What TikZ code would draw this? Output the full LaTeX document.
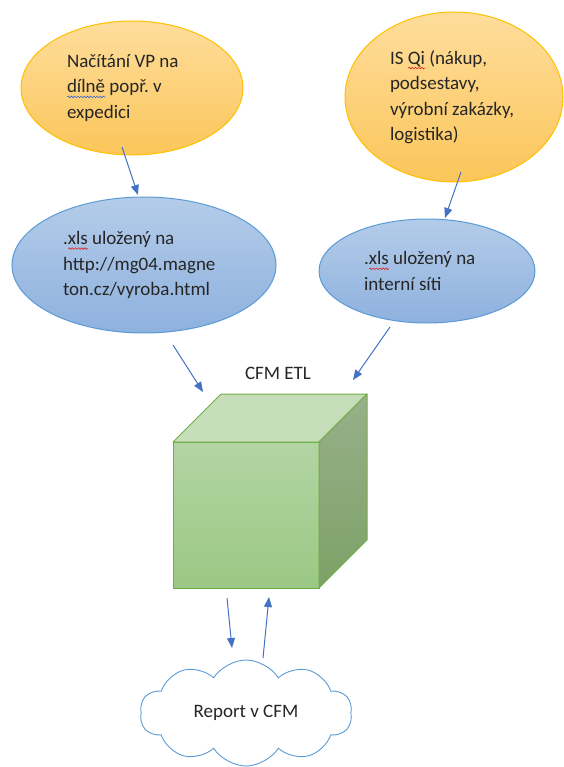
\documentclass[tikz,border=0pt]{standalone}
\usepackage{fontspec}
\setmainfont{Carlito}
\usepackage{tikz}
\usetikzlibrary{shapes.geometric, shapes.symbols, arrows.meta, decorations.pathmorphing}
\definecolor{flowblue}{HTML}{4472C4}
\definecolor{goldline}{HTML}{FFC000}
\definecolor{goldtop}{HTML}{FEDD9C}
\definecolor{goldbottom}{HTML}{FBC65A}
\definecolor{blueline}{HTML}{5B9BD5}
\definecolor{bluetop}{HTML}{B4CCE9}
\definecolor{bluebottom}{HTML}{8EB1DE}
\definecolor{greenline}{HTML}{70AD47}
\definecolor{fronttop}{HTML}{B3D4A3}
\definecolor{frontbottom}{HTML}{9BC884}
\definecolor{cubetop}{HTML}{C5DDB8}
\definecolor{sidetop}{HTML}{97B08A}
\definecolor{sidebottom}{HTML}{7DA166}
\definecolor{textgray}{HTML}{262626}
\definecolor{spellred}{HTML}{E02020}
\definecolor{spellblue}{HTML}{3A64D0}

\newsavebox{\spellbox}
\newcommand{\spellmark}[2]{\leavevmode\sbox{\spellbox}{#2}\rlap{\tikz[baseline=0pt]\draw[#1, line width=0.6pt, decorate, decoration={snake, amplitude=0.8pt, segment length=3.2pt}] (0pt,-4pt) -- (\wd\spellbox,-4pt);}\usebox{\spellbox}}

\begin{document}
\begin{tikzpicture}[
  x=1pt, y=-1pt,
  label text/.style={
    font=\fontsize{19}{25.5}\selectfont\frenchspacing,
    text=textgray,
    align=flush left
  },
  source/.style={
    ellipse,
    draw=goldline,
    line width=1pt,
    top color=goldtop,
    bottom color=goldbottom,
    inner sep=0pt,
    label text
  },
  xlsfile/.style={
    ellipse,
    draw=blueline,
    line width=1pt,
    top color=bluetop,
    bottom color=bluebottom,
    inner sep=0pt,
    label text
  },
  flow/.style={
    draw=flowblue,
    line width=1pt,
    -{Triangle[length=10pt, width=8pt]}
  }
]
  \useasboundingbox (0,0) rectangle (563,767);

  % Sources
  \node[source, minimum width=222, minimum height=134, text width=130] (vp) at (132,88)
    {Načítání VP na\\\spellmark{spellblue}{dílně} popř. v\\expedici};
  \node[source, minimum width=218, minimum height=170, text width=128] (qi) at (454,97)
    {IS \spellmark{spellred}{Qi} (nákup,\\podsestavy,\\výrobní zakázky,\\logistika)};

  % Exported files
  \node[xlsfile, minimum width=264, minimum height=136, text width=162] (web) at (144,265)
    {.\spellmark{spellred}{xls} uložený na\\http://mg04.magne\\ton.cz/vyroba.html};
  \node[xlsfile, minimum width=216, minimum height=104, text width=126] (net) at (427,271)
    {.\spellmark{spellred}{xls} uložený na\\interní síti};

  % ETL cube
  \node[label text] (etl-label) at (278,373) {CFM ETL};
  \node[rectangle, draw=greenline, line width=1pt, top color=fronttop, bottom color=frontbottom,
    minimum width=146, minimum height=146, outer sep=0pt] (etl) at (246,515) {};
  \path[draw=greenline, line width=1pt, fill=cubetop, line join=round]
    (etl.north west) -- ++(48,-48) -- ++(146,0) -- (etl.north east) -- cycle;
  \path[draw=greenline, line width=1pt, top color=sidetop, bottom color=sidebottom, line join=round]
    (etl.north east) -- ++(48,-48) -- ++(0,146) -- (etl.south east) -- cycle;

  % Report
  \node[cloud, cloud puffs=10, cloud puff arc=115, aspect=2, draw=blueline, line width=0.9pt,
    fill=white, minimum width=212, minimum height=106, label text] (report) at (246,713) {Report v CFM};

  % Arrow ends
  \coordinate (vp-out) at (122,147);
  \coordinate (web-in) at (138,195);
  \coordinate (qi-out) at (461,172);
  \coordinate (net-in) at (445,218);
  \coordinate (web-out) at (173,345);
  \coordinate (etl-in1) at (203,392);
  \coordinate (net-out) at (390,327);
  \coordinate (etl-in2) at (353,380);
  \coordinate (etl-out) at (227,598);
  \coordinate (report-in) at (232,648);
  \coordinate (report-out) at (263,658);
  \coordinate (etl-in3) at (269,597);

  \draw[flow] (vp-out) -- (web-in);
  \draw[flow] (qi-out) -- (net-in);
  \draw[flow] (web-out) -- (etl-in1);
  \draw[flow] (net-out) -- (etl-in2);
  \draw[flow] (etl-out) -- (report-in);
  \draw[flow] (report-out) -- (etl-in3);
\end{tikzpicture}
\end{document}
